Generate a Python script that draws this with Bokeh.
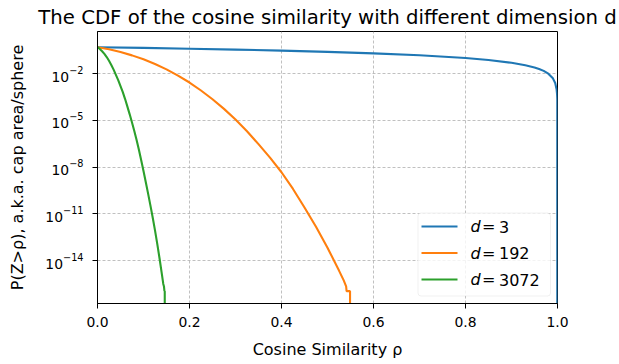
from bokeh.embed import file_html
from bokeh.models import (Arrow, BoxAnnotation, FixedTicker, Label,
                          NumeralTickFormatter, Range1d)
from bokeh.plotting import figure
from bokeh.resources import INLINE

# P(Z > rho) for three sphere dimensions (0.0 marks the exact-zero tail)
rho_d3 = [0.0, 0.1, 0.2, 0.3, 0.4, 0.5, 0.6, 0.7, 0.8, 0.85, 0.9, 0.93,
          0.95, 0.96, 0.97, 0.98, 0.99, 0.995, 0.998, 0.999, 0.9995, 1.0]
p_d3 = [0.5, 0.45, 0.4, 0.35, 0.3, 0.25, 0.2, 0.15, 0.1, 0.075, 0.05, 0.035,
        0.025, 0.02, 0.015, 0.01, 0.005, 0.0025, 0.001, 0.0005, 0.00025, 0.0]

rho_d192 = [0.0, 0.025, 0.05, 0.075, 0.1, 0.125, 0.15, 0.175, 0.2, 0.225,
            0.25, 0.275, 0.3, 0.325, 0.35, 0.375, 0.4, 0.425, 0.45, 0.475,
            0.5, 0.525, 0.535, 0.5405, 0.5415, 0.549, 0.5495]
p_d192 = [0.5, 0.365, 0.244, 0.149, 8.3e-2, 4.16e-2, 1.88e-2, 7.4e-3, 2.7e-3,
          8.3e-4, 2.28e-4, 5.5e-5, 1.13e-5, 2.0e-6, 3.0e-7, 4.1e-8, 4.7e-9,
          4.0e-10, 2.6e-11, 1.48e-12, 6.8e-14, 2.3e-15, 5.6e-16, 2.2e-16,
          1.1e-16, 1.1e-16, 0.0]

rho_d3072 = [0.0, 0.005, 0.01, 0.015, 0.02, 0.025, 0.03, 0.035, 0.04, 0.045,
             0.05, 0.055, 0.06, 0.065, 0.07, 0.075, 0.08, 0.085, 0.09, 0.095,
             0.1, 0.105, 0.11, 0.115, 0.12, 0.125, 0.13, 0.135, 0.14, 0.143,
             0.1445, 0.1455, 0.1462, 0.1463]
p_d3072 = [0.5, 0.383, 0.275, 0.185, 0.116, 6.7e-2, 3.6e-2, 1.81e-2, 8.3e-3,
           3.8e-3, 1.58e-3, 6.5e-4, 2.34e-4, 7.6e-5, 2.45e-5, 7.4e-6, 2.1e-6,
           5.6e-7, 1.32e-7, 2.8e-8, 5.6e-9, 1.07e-9, 2.0e-10, 3.5e-11,
           5.9e-12, 8.7e-13, 1.15e-13, 1.32e-14, 1.32e-15, 3.2e-16, 2.2e-16,
           1.1e-16, 1.1e-16, 0.0]

dims = ["3", "192", "3072"]
colors = ["#1f77b4", "#ff7f0e", "#2ca02c"]
x_ticks = [0.0, 0.2, 0.4, 0.6, 0.8, 1.0]
y_ticks = [1e-14, 1e-11, 1e-8, 1e-5, 1e-2]

TITLE = "The CDF of the cosine similarity with different dimension d"
X_LABEL = "Cosine Similarity ρ"
Y_LABEL = "P(Z>ρ), a.k.a. cap area/sphere"

FONT = "DejaVu Sans"
W, H = 619, 364
LEFT, RIGHT, TOP, BOTTOM = 97, 62, 30, 61
FRAME_BOTTOM = H - BOTTOM


def fx(cx):
    """canvas x -> frame-relative screen x"""
    return cx - LEFT


def fy(cy):
    """canvas y (down) -> frame-relative screen y (up)"""
    return FRAME_BOTTOM - cy


# zeros cannot sit on a log axis: push them far below the frame
FLOOR = 1e-300


def on_log(values):
    return [v if v > 0 else FLOOR for v in values]


p = figure(width=W, height=H, y_axis_type="log",
           x_range=Range1d(0, 1),
           y_range=Range1d(10 ** -16.75, 10 ** 0.705),
           output_backend="svg", toolbar_location=None, title=TITLE,
           min_border_left=LEFT, min_border_right=RIGHT,
           min_border_top=TOP, min_border_bottom=BOTTOM)

p.title.text_font = FONT
p.title.text_font_size = "19.7px"
p.title.text_font_style = "normal"
p.title.text_color = "black"
p.title.align = "center"
p.title.standoff = 6

p.background_fill_color = "white"
p.border_fill_color = "white"
p.outline_line_color = "black"
p.outline_line_width = 1

for ax in (p.xaxis[0], p.yaxis[0]):
    ax.axis_line_color = "black"
    ax.axis_line_width = 1
    ax.major_tick_line_color = "black"
    ax.major_tick_line_width = 1
    ax.major_tick_in = 0
    ax.major_tick_out = 5
    ax.minor_tick_line_color = None
    ax.major_label_text_font = FONT
    ax.major_label_text_font_size = "13.9px"
    ax.major_label_text_color = "black"
    ax.axis_label_text_font = FONT
    ax.axis_label_text_font_size = "16px"
    ax.axis_label_text_font_style = "normal"
    ax.axis_label_text_color = "black"

p.xaxis.ticker = FixedTicker(ticks=x_ticks)
p.xaxis.formatter = NumeralTickFormatter(format="0.0")
p.xaxis.major_label_standoff = 8
p.xaxis.axis_label = X_LABEL
p.xaxis.axis_label_standoff = 10

p.yaxis.ticker = FixedTicker(ticks=y_ticks)
p.yaxis.major_label_standoff = 9
p.yaxis.axis_label = Y_LABEL
p.yaxis.axis_label_standoff = 15

for g in (p.xgrid[0], p.ygrid[0]):
    g.grid_line_color = "#b0b0b0"
    g.grid_line_width = 0.8
    g.grid_line_dash = "3 2"

for rho, prob, color in zip([rho_d3, rho_d192, rho_d3072],
                            [p_d3, p_d192, p_d3072], colors):
    p.line(rho, on_log(prob), line_color=color, line_width=2.1)

# legend, drawn by hand so that "d" can be italic
p.add_layout(BoxAnnotation(left=fx(417.5), right=fx(550), top=fy(212.5),
                           bottom=fy(295.5), left_units="screen",
                           right_units="screen", top_units="screen",
                           bottom_units="screen", fill_color="white",
                           fill_alpha=0.8, line_color="#cccccc",
                           line_width=1, border_radius=3))
row_y = [226, 252.5, 279]
for dim, color, cy in zip(dims, colors, row_y):
    p.add_layout(Arrow(x_start=fx(421), y_start=fy(cy), x_end=fx(457),
                       y_end=fy(cy), start_units="screen", end_units="screen",
                       end=None, line_color=color, line_width=2.1))
    p.add_layout(Label(x=fx(470), y=fy(cy), x_units="screen", y_units="screen",
                       text="d", text_font=FONT, text_font_style="italic",
                       text_font_size="16px", text_color="black",
                       text_align="left", text_baseline="middle"))
    p.add_layout(Label(x=fx(481.5), y=fy(cy), x_units="screen",
                       y_units="screen", text="=", text_font=FONT,
                       text_font_size="16px", text_color="black",
                       text_align="left", text_baseline="middle"))
    p.add_layout(Label(x=fx(498.5), y=fy(cy), x_units="screen",
                       y_units="screen", text=dim, text_font=FONT,
                       text_font_size="16px", text_color="black",
                       text_align="left", text_baseline="middle"))

open("out.html", "w").write(file_html(p, INLINE))
